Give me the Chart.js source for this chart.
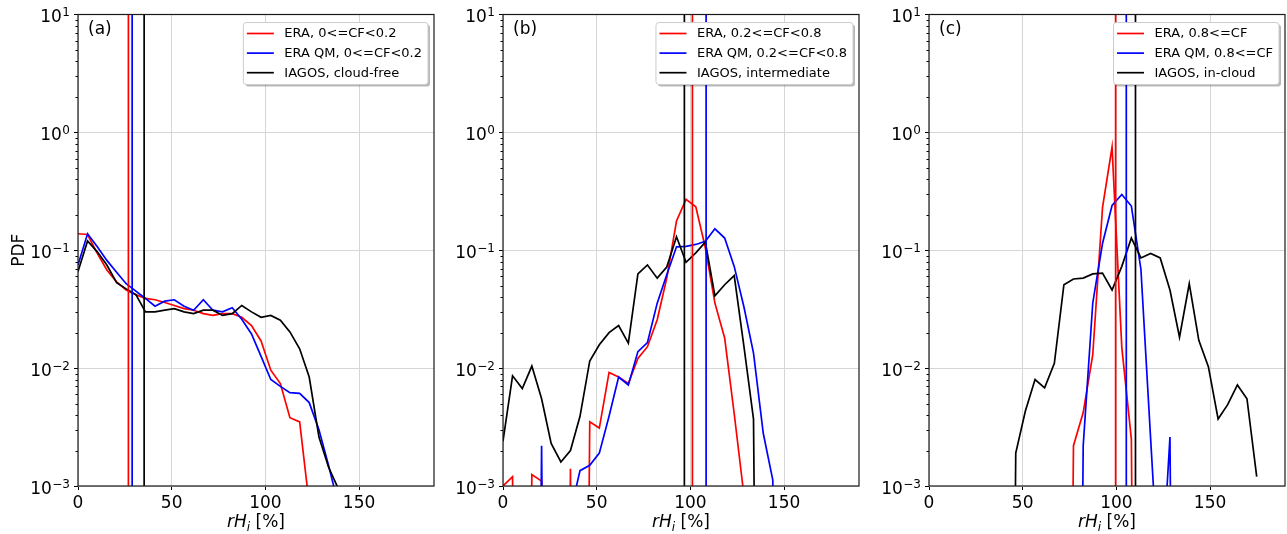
<!DOCTYPE html>
<html>
<head>
<meta charset="utf-8">
<title>rHi PDFs</title>
<script src="https://cdn.jsdelivr.net/npm/chart.js@4.4.1/dist/chart.umd.min.js"></script>
<style>
  html, body { margin: 0; padding: 0; background: #fff; }
  #wrap { position: relative; width: 1287px; height: 534px; overflow: hidden; }
  .panel { position: absolute; top: 0; height: 534px; }
</style>
</head>
<body>
<div id="wrap">
  <div class="panel" style="left:0;width:440px"><canvas id="chartA"></canvas></div>
  <div class="panel" style="left:440px;width:426px"><canvas id="chartB"></canvas></div>
  <div class="panel" style="left:866px;width:421px"><canvas id="chartC"></canvas></div>
</div>
<script>
// bin centres of the rHi histograms [%]
const rhiBins = [0, 5.1, 10.3, 15.4, 20.6, 25.7, 30.9, 36.0, 41.1, 46.3, 51.4, 56.6,
  61.7, 66.9, 72.0, 77.1, 82.3, 87.4, 92.6, 97.7, 102.9, 108.0, 113.1, 118.3, 123.4,
  128.6, 133.7, 138.9, 144.0, 149.1, 154.3, 159.4, 164.6, 169.7, 174.9];
const xTickValues = [0, 50, 100, 150];
const yTickValues = [1e-3, 1e-2, 1e-1, 1, 10];
const yTickExponents = [-3, -2, -1, 0, 1];

// (a) cloud-free
const eraA = [0.138, 0.136, 0.094, 0.068, 0.054, 0.046, 0.042, 0.039, 0.038, 0.036, 0.034, 0.032,
  0.031, 0.029, 0.028, 0.029, 0.029, 0.027, 0.023, 0.017, 0.0096, 0.0074, 0.0038, 0.0035, 0.0007,
  0, 0, 0, 0, 0, 0, 0, 0, 0, 0];
const eraQmA = [0.075, 0.138, 0.107, 0.082, 0.065, 0.052, 0.045, 0.039, 0.0335, 0.037, 0.038, 0.0335,
  0.031, 0.038, 0.031, 0.030, 0.0325, 0.026, 0.0195, 0.0126, 0.0080, 0.0070, 0.0062, 0.0061, 0.0051,
  0.0030, 0.0015, 0.0007, 0, 0, 0, 0, 0, 0, 0];
const iagosA = [0.066, 0.12, 0.097, 0.075, 0.053, 0.047, 0.042, 0.030, 0.030, 0.031, 0.032, 0.030,
  0.029, 0.031, 0.031, 0.028, 0.029, 0.034, 0.030, 0.027, 0.028, 0.0255, 0.0203, 0.0146, 0.0084,
  0.0026, 0.00145, 0.00095, 0, 0, 0, 0, 0, 0, 0];
const meansA = [26.9, 28.9, 35.3]; // ERA, ERA QM, IAGOS

// (b) intermediate
const eraB = [0.001, 0.0012, 0, 0.00125, 0.0011, 0, 0, 0.0014, 0, 0.0035, 0.0031, 0.0092,
  0.0084, 0.0074, 0.0121, 0.0152, 0.0257, 0.058, 0.177, 0.27, 0.234, 0.105, 0.0356, 0.018, 0.0041,
  0.00083, 0, 0, 0, 0, 0, 0, 0, 0, 0];
const eraQmB = [0, 0, 0, 0, 0.0022, 0, 0, 0.0006, 0.00135, 0.0015, 0.0019, 0.0039,
  0.0084, 0.0072, 0.0138, 0.0165, 0.0356, 0.062, 0.107, 0.108, 0.112, 0.119, 0.152, 0.127, 0.073,
  0.033, 0.0134, 0.0028, 0.00112, 0, 0, 0, 0, 0, 0];
const iagosB = [0.0024, 0.0086, 0.0067, 0.0104, 0.0055, 0.0023, 0.0016, 0.0020, 0.0039, 0.0115, 0.0158, 0.020,
  0.023, 0.0163, 0.063, 0.075, 0.058, 0.072, 0.13, 0.079, 0.095, 0.117, 0.041, 0.051, 0.061,
  0.0152, 0.0037, 0, 0, 0, 0, 0, 0, 0, 0];
const meansB = [101.1, 108.4, 96.8];

// (c) in-cloud
const eraC = [0, 0, 0, 0, 0, 0, 0, 0, 0, 0, 0, 0,
  0, 0, 0, 0.0022, 0.0042, 0.013, 0.23, 0.75, 0.015, 0.0025, 0, 0, 0,
  0, 0, 0, 0, 0, 0, 0, 0, 0, 0];
const eraQmC = [0, 0, 0, 0, 0, 0, 0, 0, 0, 0, 0, 0,
  0, 0, 0, 0, 0.0022, 0.0357, 0.114, 0.24, 0.297, 0.237, 0.069, 0.0025, 0.0001,
  0.0026, 0, 0, 0, 0, 0, 0, 0, 0, 0];
const iagosC = [0, 0, 0, 0, 0, 0, 0, 0, 0, 0.0019, 0.0043, 0.0080,
  0.0068, 0.011, 0.051, 0.057, 0.058, 0.063, 0.064, 0.046, 0.073, 0.127, 0.086, 0.094, 0.086,
  0.046, 0.0183, 0.052, 0.0172, 0.0103, 0.0037, 0.0049, 0.0072, 0.0055, 0.0012];
const meansC = [99.6, 105.3, 110.2];

const COLORS = ["#ff0000", "#0000ff", "#000000"];
const FONT = "DejaVu Sans";
// empty bins are clipped to a tiny value like matplotlib does on a log axis
const LOG_FLOOR = 1e-12;

Chart.defaults.font.family = FONT;
Chart.defaults.color = "#000";

function toPoints(vals) {
  return vals.map((v, i) => ({ x: rhiBins[i], y: v > 0 ? v : LOG_FLOOR }));
}

function roundRect(ctx, x, y, w, h, r) {
  ctx.beginPath();
  ctx.moveTo(x + r, y);
  ctx.lineTo(x + w - r, y);
  ctx.quadraticCurveTo(x + w, y, x + w, y + r);
  ctx.lineTo(x + w, y + h - r);
  ctx.quadraticCurveTo(x + w, y + h, x + w - r, y + h);
  ctx.lineTo(x + r, y + h);
  ctx.quadraticCurveTo(x, y + h, x, y + h - r);
  ctx.lineTo(x, y + r);
  ctx.quadraticCurveTo(x, y, x + r, y);
  ctx.closePath();
}

const panelDecor = {
  id: "panelDecor",
  afterDraw(chart, args, opts) {
    const { ctx, chartArea: a, scales } = chart;
    const y = scales.y;
    ctx.save();

    // minor ticks of the log axis
    ctx.strokeStyle = "#000";
    ctx.lineWidth = 1;
    for (let e = -3; e < 1; e++) {
      for (let k = 2; k < 10; k++) {
        const py = Math.round(y.getPixelForValue(k * Math.pow(10, e))) + 0.5;
        ctx.beginPath();
        ctx.moveTo(a.left - 2.5, py);
        ctx.lineTo(a.left, py);
        ctx.stroke();
      }
    }

    // y tick labels 10^n
    ctx.fillStyle = "#000";
    yTickValues.forEach((v, i) => {
      const py = y.getPixelForValue(v);
      const e = yTickExponents[i];
      const sup = e < 0 ? "\u2212" + -e : String(e);
      ctx.font = "12px '" + FONT + "'";
      const ws = ctx.measureText(sup).width;
      const xr = a.left - 8;
      ctx.textAlign = "left";
      ctx.textBaseline = "alphabetic";
      ctx.fillText(sup, xr - ws, py + 1.5);
      ctx.font = "17px '" + FONT + "'";
      ctx.textAlign = "right";
      ctx.fillText("10", xr - ws - 0.5, py + 7.5);
    });

    // frame
    ctx.strokeStyle = "#1a1a1a";
    ctx.lineWidth = 1.2;
    ctx.strokeRect(a.left, a.top, a.right - a.left, a.bottom - a.top);

    // panel tag
    ctx.font = "17px '" + FONT + "'";
    ctx.textAlign = "left";
    ctx.textBaseline = "middle";
    ctx.fillText(opts.tag, a.left + 10, a.top + 15.5);

    // legend box
    ctx.font = "13px '" + FONT + "'";
    const tw = Math.max(...opts.labels.map((t) => ctx.measureText(t).width));
    const bw = 3.5 + 27 + 10.5 + tw + 6;
    const bh = 62;
    const bx = a.right - 6 - bw;
    const by = a.top + 8;
    ctx.fillStyle = "rgba(0,0,0,0.28)";
    roundRect(ctx, bx + 2, by + 2, bw, bh, 3);
    ctx.fill();
    ctx.fillStyle = "#fff";
    roundRect(ctx, bx, by, bw, bh, 3);
    ctx.fill();
    ctx.strokeStyle = "#cccccc";
    ctx.lineWidth = 1;
    ctx.stroke();
    opts.labels.forEach((t, i) => {
      const ry = by + 11 + i * 19.6;
      ctx.strokeStyle = COLORS[i];
      ctx.lineWidth = 1.7;
      ctx.beginPath();
      ctx.moveTo(bx + 3.5, ry);
      ctx.lineTo(bx + 30.5, ry);
      ctx.stroke();
      ctx.fillStyle = "#000";
      ctx.textBaseline = "middle";
      ctx.fillText(t, bx + 41, ry + 0.5);
    });

    // x axis title: rH_i [%]
    const base = 527;
    const parts = [
      { t: "rH", f: "italic 17px '" + FONT + "'", dy: 0 },
      { t: "i", f: "italic 12px '" + FONT + "'", dy: 3.5 },
      { t: " [%]", f: "17px '" + FONT + "'", dy: 0 },
    ];
    let total = 0;
    parts.forEach((p) => {
      ctx.font = p.f;
      p.w = ctx.measureText(p.t).width;
      total += p.w;
    });
    let cx = (a.left + a.right) / 2 - total / 2;
    ctx.textAlign = "left";
    ctx.textBaseline = "alphabetic";
    ctx.fillStyle = "#000";
    parts.forEach((p) => {
      ctx.font = p.f;
      ctx.fillText(p.t, cx, base + p.dy);
      cx += p.w;
    });

    ctx.restore();
  },
};

function makePanel(canvasId, cfg) {
  const curves = [cfg.era, cfg.eraQm, cfg.iagos].map((vals, i) => ({
    data: toPoints(vals),
    borderColor: COLORS[i],
    borderWidth: 1.7,
    pointRadius: 0,
    tension: 0,
    fill: false,
    clip: 0,
    order: 6 - i,
  }));
  const vlines = cfg.means.map((m, i) => ({
    data: [{ x: m, y: yTickValues[0] }, { x: m, y: yTickValues[yTickValues.length - 1] }],
    borderColor: COLORS[i],
    borderWidth: 1.7,
    pointRadius: 0,
    fill: false,
    clip: 0,
    order: 3 - i,
  }));

  return new Chart(document.getElementById(canvasId), {
    type: "line",
    data: { datasets: curves.concat(vlines) },
    plugins: [panelDecor],
    options: {
      responsive: true,
      maintainAspectRatio: false,
      animation: false,
      events: [],
      layout: { padding: { top: 14.5, right: cfg.padRight, left: 0, bottom: 0 } },
      plugins: {
        legend: { display: false },
        tooltip: { enabled: false },
        panelDecor: { tag: cfg.tag, labels: cfg.labels },
      },
      scales: {
        x: {
          type: "linear",
          min: 0,
          max: 190,
          afterBuildTicks: (s) => {
            s.ticks = xTickValues.map((v) => ({ value: v }));
          },
          afterFit: (s) => {
            s.height = 48;
          },
          ticks: { font: { size: 17 }, color: "#000", padding: 3, maxRotation: 0 },
          grid: { color: "#d6d6d6", lineWidth: 1, tickLength: 4, tickColor: "#000" },
          border: { display: false },
        },
        y: {
          type: "logarithmic",
          min: 1e-3,
          max: 10,
          afterBuildTicks: (s) => {
            s.ticks = yTickValues.map((v) => ({ value: v }));
          },
          afterFit: (s) => {
            s.width = cfg.axisWidth;
          },
          ticks: { display: false },
          grid: { color: "#d6d6d6", lineWidth: 1, tickLength: 4, tickColor: "#000" },
          border: { display: false },
          title: {
            display: cfg.showYTitle,
            text: "PDF",
            font: { size: 17 },
            color: "#000",
            padding: { top: 9, bottom: 0 },
          },
        },
      },
    },
  });
}

makePanel("chartA", {
  tag: "(a)",
  era: eraA, eraQm: eraQmA, iagos: iagosA, means: meansA,
  labels: ["ERA, 0<=CF<0.2", "ERA QM, 0<=CF<0.2", "IAGOS, cloud-free"],
  axisWidth: 78, padRight: 6, showYTitle: true,
});
makePanel("chartB", {
  tag: "(b)",
  era: eraB, eraQm: eraQmB, iagos: iagosB, means: meansB,
  labels: ["ERA, 0.2<=CF<0.8", "ERA QM, 0.2<=CF<0.8", "IAGOS, intermediate"],
  axisWidth: 63, padRight: 7, showYTitle: false,
});
makePanel("chartC", {
  tag: "(c)",
  era: eraC, eraQm: eraQmC, iagos: iagosC, means: meansC,
  labels: ["ERA, 0.8<=CF", "ERA QM, 0.8<=CF", "IAGOS, in-cloud"],
  axisWidth: 63, padRight: 2, showYTitle: false,
});
</script>
</body>
</html>
